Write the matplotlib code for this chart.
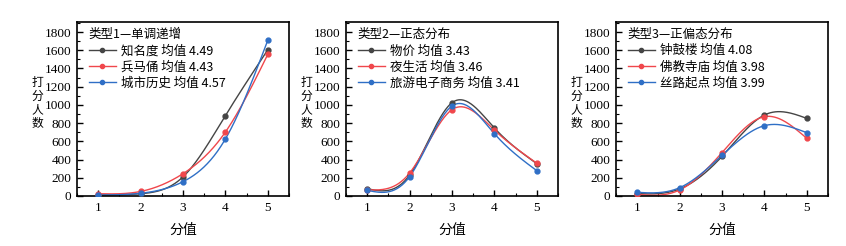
import numpy as np
import matplotlib
matplotlib.use("Agg")
import matplotlib.pyplot as plt
from matplotlib.ticker import MultipleLocator

plt.rcParams['font.family'] = ['Liberation Serif', 'Noto Sans CJK SC', 'DejaVu Sans']
plt.rcParams['font.size'] = 9.5

scores = [1, 2, 3, 4, 5]

titles = ["类型1—单调递增", "类型2—正态分布", "类型3—正偏态分布"]

labels1 = ["知名度 均值 4.49", "兵马俑 均值 4.43", "城市历史 均值 4.57"]
black1 = [12, 25, 210, 882, 1605]
red1 = [25, 50, 245, 702, 1555]
blue1 = [10, 30, 157, 626, 1710]

labels2 = ["物价 均值 3.43", "夜生活 均值 3.46", "旅游电子商务 均值 3.41"]
black2 = [80, 230, 1024, 746, 355]
red2 = [68, 252, 948, 724, 360]
blue2 = [62, 212, 988, 684, 278]

labels3 = ["钟鼓楼 均值 4.08", "佛教寺庙 均值 3.98", "丝路起点 均值 3.99"]
black3 = [26, 77, 435, 889, 852]
red3 = [18, 66, 476, 871, 633]
blue3 = [40, 91, 446, 772, 695]

colors = ["#454545", "#f0474c", "#2f6fc6"]


def natural_spline(x, y, n=200):
    x = np.asarray(x, float)
    y = np.asarray(y, float)
    k = len(x)
    h = np.diff(x)
    A = np.zeros((k, k))
    b = np.zeros(k)
    A[0, 0] = 1
    A[-1, -1] = 1
    for i in range(1, k - 1):
        A[i, i - 1] = h[i - 1]
        A[i, i] = 2 * (h[i - 1] + h[i])
        A[i, i + 1] = h[i]
        b[i] = 3 * ((y[i + 1] - y[i]) / h[i] - (y[i] - y[i - 1]) / h[i - 1])
    c = np.linalg.solve(A, b)
    xs = np.linspace(x[0], x[-1], n)
    ys = np.empty_like(xs)
    for j, xv in enumerate(xs):
        i = min(np.searchsorted(x, xv, side='right') - 1, k - 2)
        dx = xv - x[i]
        bi = (y[i + 1] - y[i]) / h[i] - h[i] * (2 * c[i] + c[i + 1]) / 3
        di = (c[i + 1] - c[i]) / (3 * h[i])
        ys[j] = y[i] + bi * dx + c[i] * dx ** 2 + di * dx ** 3
    return xs, ys


fig = plt.figure(figsize=(8.46, 2.46), dpi=100)
W, H = 846, 246
lefts = [77, 346, 616]
width = 212
top, bottom = 22, 196

panels = [
    (labels1, [black1, red1, blue1]),
    (labels2, [black2, red2, blue2]),
    (labels3, [black3, red3, blue3]),
]

cjk = ['Noto Sans CJK SC', 'DejaVu Sans']

for p, (labs, series) in enumerate(panels):
    ax = fig.add_axes([lefts[p] / W, (H - bottom) / H, width / W, (bottom - top) / H])
    for lab, ys, col in zip(labs, series, colors):
        xs, yy = natural_spline(scores, ys)
        ax.plot(xs, yy, color=col, lw=1.0, zorder=2)
        ax.plot(scores, ys, 'o', color=col, ms=3.5, zorder=3)
        ax.plot([], [], '-o', color=col, lw=1.0, ms=3, label=lab)
    ax.set_xlim(0.5, 5.5)
    ax.set_ylim(0, 1910)
    ax.set_xticks(scores)
    ax.xaxis.set_minor_locator(MultipleLocator(0.5))
    ax.yaxis.set_major_locator(MultipleLocator(200))
    ax.yaxis.set_minor_locator(MultipleLocator(100))
    ax.tick_params(which='both', direction='in', top=False, right=False)
    ax.tick_params(which='major', length=4, width=1.0, labelsize=9.5, pad=4)
    ax.tick_params(which='minor', length=2.5, width=0.8)
    for s in ax.spines.values():
        s.set_linewidth(1.2)
    leg = ax.legend(loc='upper left', bbox_to_anchor=(0.025, 1.0), frameon=False,
                    title=titles[p], alignment='left',
                    prop={'family': cjk, 'size': 9},
                    handlelength=2.2, handletextpad=0.4, labelspacing=0.25,
                    borderaxespad=0.3, borderpad=0.2)
    leg.get_title().set_fontfamily(cjk)
    leg.get_title().set_fontsize(9)
    ax.set_xlabel("分值", family=cjk, fontsize=10, labelpad=7)
    fig.text((lefts[p] - 40) / W, (H - 103) / H, "打\n分\n人\n数", ha='center', va='center',
             family=cjk, fontsize=8.5, linespacing=1.05)

fig.savefig("out.png", dpi=100)
